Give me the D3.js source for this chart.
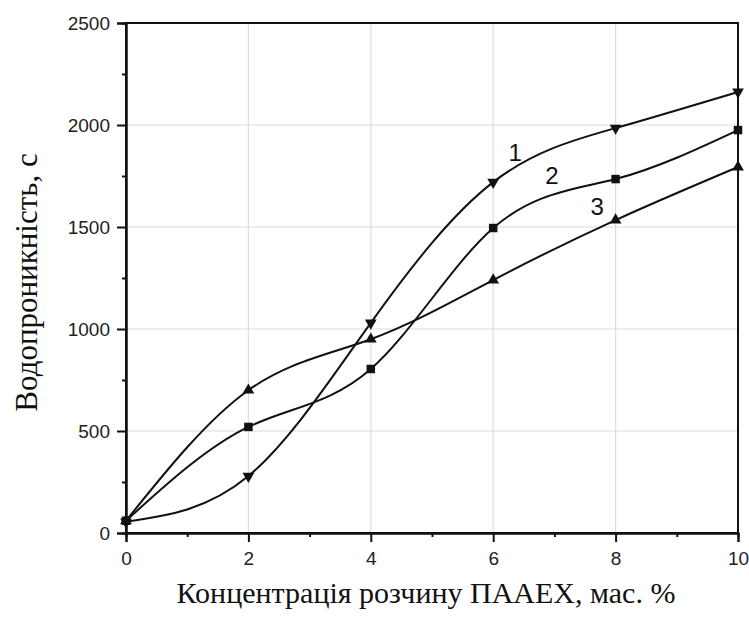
<!DOCTYPE html>
<html>
<head>
<meta charset="utf-8">
<script src="https://cdn.jsdelivr.net/npm/d3@7"></script>
<style>
  body { margin: 0; background: #fff; }
</style>
</head>
<body>
<div class="chart"></div>
<script>
// concentration values (x) and water permeability per curve (y)
const concentrations = [0, 2, 4, 6, 8, 10];
const curve1 = [55, 279, 1030, 1720, 1985, 2162];
const curve2 = [60, 520, 804, 1495, 1735, 1975];
const curve3 = [60, 700, 950, 1240, 1534, 1794];
const seriesNames = ["1", "2", "3"];
const xTicks = [0, 2, 4, 6, 8, 10];
const yTicks = [0, 500, 1000, 1500, 2000, 2500];

const widthProp = 749, heightProp = 617;
const mLeft = 126, mRight = 11, mTop = 23, mBottom = 84;
const width = widthProp - mLeft - mRight;
const height = heightProp - mTop - mBottom;

const svg = d3.select(".chart").append("svg")
  .attr("width", widthProp)
  .attr("height", heightProp)
  .append("g")
  .attr("transform", `translate(${mLeft},${mTop})`);

const x = d3.scaleLinear().domain([0, 10]).range([0, width]);
const y = d3.scaleLinear().domain([0, 2500]).range([height, 0]);

// grid lines
svg.append("g").selectAll("line")
  .data(xTicks.filter(d => d > 0 && d < 10))
  .enter().append("line")
  .attr("x1", d => x(d)).attr("x2", d => x(d))
  .attr("y1", 0).attr("y2", height)
  .attr("stroke", "#dcdcdc").attr("stroke-width", 1.2);
svg.append("g").selectAll("line")
  .data(yTicks.filter(d => d > 0 && d < 2500))
  .enter().append("line")
  .attr("y1", d => y(d)).attr("y2", d => y(d))
  .attr("x1", 0).attr("x2", width)
  .attr("stroke", "#dcdcdc").attr("stroke-width", 1.2);

// frame (top and right)
svg.append("rect")
  .attr("x", 0).attr("y", 0).attr("width", width).attr("height", height)
  .attr("fill", "none").attr("stroke", "#111").attr("stroke-width", 2);

// axes
const xAxis = svg.append("g")
  .attr("transform", `translate(0,${height})`)
  .call(d3.axisBottom(x).tickValues(xTicks).tickSize(9).tickPadding(10).tickFormat(d3.format("d")));
const xMinor = svg.append("g")
  .attr("transform", `translate(0,${height})`)
  .call(d3.axisBottom(x).tickValues([1, 3, 5, 7, 9]).tickSize(4).tickFormat(""));
const yAxis = svg.append("g")
  .call(d3.axisLeft(y).tickValues(yTicks).tickSize(9).tickPadding(7).tickFormat(d3.format("d")));
const yMinor = svg.append("g")
  .call(d3.axisLeft(y).tickValues([250, 750, 1250, 1750, 2250]).tickSize(4).tickFormat(""));

[xAxis, yAxis, xMinor, yMinor].forEach(g => {
  g.select(".domain").attr("stroke", "#111").attr("stroke-width", 2);
  g.selectAll(".tick line").attr("stroke", "#111").attr("stroke-width", 2);
  g.selectAll("text")
    .attr("font-family", "Liberation Sans, Arial, sans-serif")
    .attr("font-size", 19)
    .attr("fill", "#222");
});

// curves
const line = d3.line()
  .x((d, i) => x(concentrations[i]))
  .y(d => y(d))
  .curve(d3.curveNatural);

const allSeries = [curve1, curve2, curve3];
const symbols = [
  d3.symbol().type(d3.symbolTriangle).size(60),
  d3.symbol().type(d3.symbolSquare).size(72),
  d3.symbol().type(d3.symbolTriangle).size(60)
];

allSeries.forEach((vals, s) => {
  svg.append("path")
    .datum(vals)
    .attr("d", line)
    .attr("fill", "none")
    .attr("stroke", "#111")
    .attr("stroke-width", 2);
  svg.append("g").selectAll("path")
    .data(vals)
    .enter().append("path")
    .attr("d", symbols[s])
    .attr("transform", (d, i) =>
      `translate(${x(concentrations[i])},${y(d)})` + (s === 0 ? " rotate(180)" : ""))
    .attr("fill", "#111");
});

// curve labels
const labelPos = [[6.36, 1824], [6.96, 1711], [7.7, 1559]];
svg.append("g").selectAll("text")
  .data(seriesNames)
  .enter().append("text")
  .attr("x", (d, i) => x(labelPos[i][0]))
  .attr("y", (d, i) => y(labelPos[i][1]))
  .attr("text-anchor", "middle")
  .attr("font-family", "Liberation Sans, Arial, sans-serif")
  .attr("font-size", 24)
  .attr("fill", "#111")
  .text(d => d);

// axis titles
svg.append("text")
  .attr("x", width / 2 - 6)
  .attr("y", height + 70)
  .attr("text-anchor", "middle")
  .attr("font-family", "Liberation Serif, Times New Roman, serif")
  .attr("font-size", 30)
  .attr("fill", "#111")
  .text("Концентрація розчину ПААЕХ, мас. %");

svg.append("text")
  .attr("transform", `translate(${-89},${y(1228)}) rotate(-90)`)
  .attr("text-anchor", "middle")
  .attr("font-family", "Liberation Serif, Times New Roman, serif")
  .attr("font-size", 31)
  .attr("fill", "#111")
  .text("Водопроникність, с");
</script>
</body>
</html>
